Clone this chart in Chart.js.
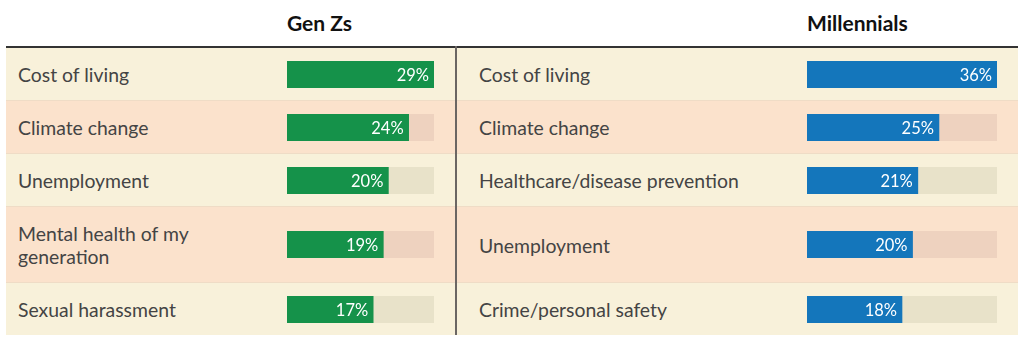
<!DOCTYPE html>
<html>
<head>
<meta charset="utf-8">
<script src="https://cdn.jsdelivr.net/npm/chart.js@4/dist/chart.umd.min.js"></script>
<style>
  body { margin: 0; background: #fff; font-family: Lato, sans-serif; }
  #wrap { position: relative; width: 1024px; height: 349px; overflow: hidden; }
  .head { position: absolute; top: 10px; font-weight: bold; font-size: 21px; color: #111; }
  table { position: absolute; left: 6px; top: 46px; border-collapse: collapse; border-top: 2px solid #333; }
  td { padding: 0; vertical-align: middle; }
  td.label { font-size: 19.4px; line-height: 23px; color: #444; padding: 15px 0 14px 12px; white-space: nowrap; }
  td.label.right { padding-left: 22px; border-left: 2px solid #6b6663; }
  tr { border-bottom: 1px solid #efdcc6; }
  tr:last-child { border-bottom: none; }
  tr.odd { background: #f8f1da; }
  tr.even { background: #fbe2cc; }
  canvas { display: block; }
</style>
</head>
<body>
<div id="wrap">
  <div class="head" style="left:287px">Gen Zs</div>
  <div class="head" style="left:807px">Millennials</div>
  <table id="tbl">
    <colgroup>
      <col style="width:281px"><col style="width:147px"><col style="width:22px">
      <col style="width:351px"><col style="width:190px"><col style="width:21px">
    </colgroup>
    <tbody></tbody>
  </table>
</div>
<script>
// Gen Z top concerns
const genZIssues = ['Cost of living', 'Climate change', 'Unemployment', ['Mental health of my', 'generation'], 'Sexual harassment'];
const genZValues = [29, 24, 20, 19, 17];

// Millennial top concerns
const millennialIssues = ['Cost of living', 'Climate change', 'Healthcare/disease prevention', 'Unemployment', 'Crime/personal safety'];
const millennialValues = [36, 25, 21, 20, 18];

const genZColor = '#15924a';
const millennialColor = '#1476bb';
const trackColors = { odd: '#e8e2c9', even: '#eed2bf' };

// writes the % label inside the end of the bar
const valueLabels = {
  id: 'valueLabels',
  afterDatasetsDraw(chart) {
    const ctx = chart.ctx;
    const meta = chart.getDatasetMeta(0);
    meta.data.forEach((bar, i) => {
      ctx.save();
      ctx.fillStyle = '#fff';
      ctx.font = '16.5px Lato';
      ctx.textAlign = 'right';
      ctx.textBaseline = 'middle';
      ctx.fillText(chart.data.datasets[0].data[i] + '%', bar.x - 5, bar.y + 1);
      ctx.restore();
    });
  }
};

const makeBar = (canvas, value, max, color, track) => {
  new Chart(canvas.getContext('2d'), {
    type: 'bar',
    data: {
      labels: [''],
      datasets: [
        { data: [value], backgroundColor: color, order: 0, barPercentage: 1, categoryPercentage: 1 },
        { data: [max], backgroundColor: track, order: 1, barPercentage: 1, categoryPercentage: 1 }
      ]
    },
    options: {
      indexAxis: 'y',
      responsive: false,
      animation: false,
      events: [],
      layout: { padding: 0 },
      plugins: { legend: { display: false }, tooltip: { enabled: false } },
      scales: {
        x: { display: false, min: 0, max: max, stacked: false },
        y: { display: false, stacked: false }
      },
      datasets: { bar: { grouped: false } }
    },
    plugins: [valueLabels]
  });
};

const labelHtml = (label) => Array.isArray(label) ? label.join('<br>') : label;

const genZMax = Math.max(...genZValues);
const millennialMax = Math.max(...millennialValues);
const tbody = document.querySelector('#tbl tbody');

genZIssues.forEach((issue, i) => {
  const parity = i % 2 === 0 ? 'odd' : 'even';
  const tr = document.createElement('tr');
  tr.className = parity;
  tr.innerHTML =
    `<td class="label">${labelHtml(issue)}</td>` +
    `<td><canvas width="147" height="27"></canvas></td><td></td>` +
    `<td class="label right">${labelHtml(millennialIssues[i])}</td>` +
    `<td><canvas width="190" height="27"></canvas></td><td></td>`;
  tbody.appendChild(tr);
  const canvases = tr.querySelectorAll('canvas');
  makeBar(canvases[0], genZValues[i], genZMax, genZColor, trackColors[parity]);
  makeBar(canvases[1], millennialValues[i], millennialMax, millennialColor, trackColors[parity]);
});
</script>
</body>
</html>
